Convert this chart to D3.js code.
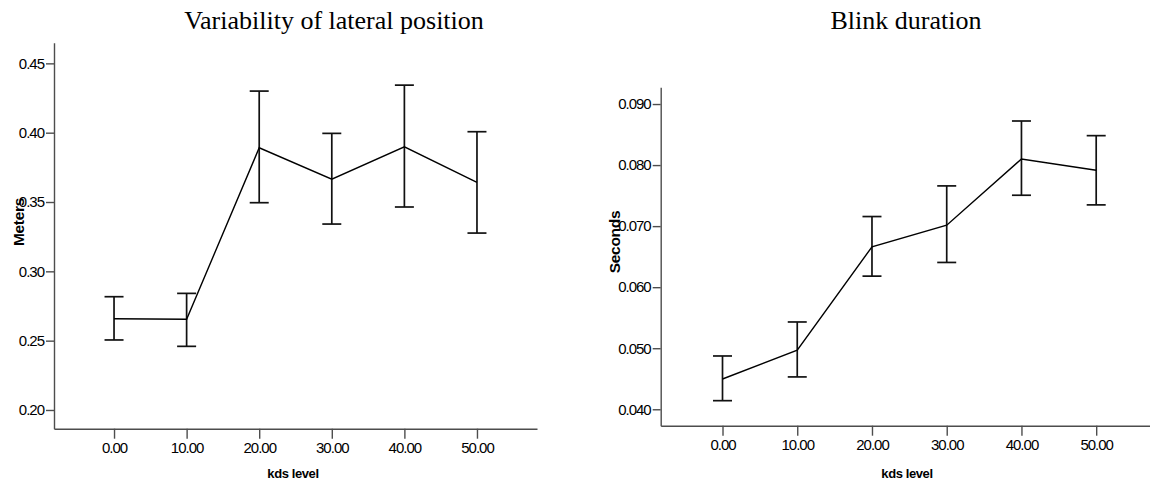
<!DOCTYPE html>
<html>
<head>
<meta charset="utf-8">
<script src="https://cdn.jsdelivr.net/npm/d3@7"></script>
<style>
  body { margin: 0; background: #fff; }
  .tick text { font-family: "Liberation Sans", Arial, sans-serif; font-size: 15px; letter-spacing: -1px; fill: #000; }
  .tick line, .domain { stroke: #4d4d4d; stroke-width: 1.4px; }
</style>
</head>
<body>
<div id="plot"></div>
<script>
// kds levels on the x axis
var levels = [0, 10, 20, 30, 40, 50];

// Variability of lateral position (meters): mean, lower and upper error bar
var lateralMean  = [0.2658, 0.2654, 0.3891, 0.3665, 0.3898, 0.3642];
var lateralLower = [0.2505, 0.2459, 0.3495, 0.3341, 0.3464, 0.3276];
var lateralUpper = [0.2817, 0.2841, 0.4300, 0.3995, 0.4343, 0.4007];
var lateralTicks = [0.20, 0.25, 0.30, 0.35, 0.40, 0.45];

// Blink duration (seconds)
var blinkMean  = [0.04496, 0.0497, 0.06661, 0.07015, 0.08100, 0.07915];
var blinkLower = [0.04141, 0.0453, 0.06181, 0.06405, 0.07506, 0.07348];
var blinkUpper = [0.04873, 0.0543, 0.07157, 0.07659, 0.08722, 0.08482];
var blinkTicks = [0.040, 0.050, 0.060, 0.070, 0.080, 0.090];

var svg = d3.select("#plot")
  .append("svg")
    .attr("width", 1150)
    .attr("height", 484);

function drawPanel(opt) {
  var x = d3.scaleLinear()
    .domain([-8.27, 58.27])
    .range([opt.left, opt.right]);
  var y = d3.scaleLinear()
    .domain(opt.yDomain)
    .range([opt.bottom, opt.top]);

  var g = svg.append("g");

  // X axis
  g.append("g")
    .attr("transform", "translate(0," + opt.bottom + ")")
    .call(d3.axisBottom(x).tickValues(levels).tickFormat(d3.format(".2f"))
      .tickSize(10).tickSizeOuter(0).tickPadding(4));

  // Y axis
  g.append("g")
    .attr("transform", "translate(" + opt.left + ",0)")
    .call(d3.axisLeft(y).tickValues(opt.ticks).tickFormat(d3.format(opt.fmt))
      .tickSize(8).tickSizeOuter(0).tickPadding(2));

  var rows = levels.map(function (d, i) {
    return {k: d, m: opt.mean[i], lo: opt.lower[i], hi: opt.upper[i]};
  });

  // error bars
  var bars = g.append("g").selectAll("g")
    .data(rows)
    .enter()
    .append("g")
      .attr("stroke", "#111")
      .attr("stroke-width", 1.7);
  bars.append("line")
    .attr("x1", function (d) { return x(d.k); })
    .attr("x2", function (d) { return x(d.k); })
    .attr("y1", function (d) { return y(d.lo); })
    .attr("y2", function (d) { return y(d.hi); });
  bars.append("line")
    .attr("x1", function (d) { return x(d.k) - 9.5; })
    .attr("x2", function (d) { return x(d.k) + 9.5; })
    .attr("y1", function (d) { return y(d.hi); })
    .attr("y2", function (d) { return y(d.hi); });
  bars.append("line")
    .attr("x1", function (d) { return x(d.k) - 9.5; })
    .attr("x2", function (d) { return x(d.k) + 9.5; })
    .attr("y1", function (d) { return y(d.lo); })
    .attr("y2", function (d) { return y(d.lo); });

  // mean line
  g.append("path")
    .datum(rows)
    .attr("fill", "none")
    .attr("stroke", "#000")
    .attr("stroke-width", 1.4)
    .attr("d", d3.line()
      .x(function (d) { return x(d.k); })
      .y(function (d) { return y(d.m); }));

  // title
  g.append("text")
    .attr("x", opt.titleX)
    .attr("y", 29)
    .attr("text-anchor", "middle")
    .style("font-family", "'Liberation Serif', 'Times New Roman', serif")
    .style("font-size", "26px")
    .text(opt.title);

  // X axis label
  g.append("text")
    .attr("x", opt.xLabelX)
    .attr("y", 478)
    .attr("text-anchor", "middle")
    .style("font-family", "'Liberation Sans', Arial, sans-serif")
    .style("font-size", "13px")
    .style("font-weight", "bold")
    .style("letter-spacing", "-0.4px")
    .text("kds level");

  // Y axis label
  g.append("text")
    .attr("transform", "translate(" + opt.yLabelX + "," + opt.yLabelY + ") rotate(-90)")
    .attr("text-anchor", "middle")
    .style("font-family", "'Liberation Sans', Arial, sans-serif")
    .style("font-size", "15.5px")
    .style("font-weight", "bold")
    .style("letter-spacing", "-0.3px")
    .text(opt.yLabel);
}

drawPanel({
  left: 54, right: 537, top: 42.7, bottom: 428.7,
  yDomain: [0.1865, 0.4649], ticks: lateralTicks, fmt: ".2f",
  mean: lateralMean, lower: lateralLower, upper: lateralUpper,
  title: "Variability of lateral position", titleX: 334,
  xLabelX: 293, yLabel: "Meters", yLabelX: 24, yLabelY: 222
});

drawPanel({
  left: 660.7, right: 1158, top: 87.3, bottom: 425.7,
  yDomain: [0.03731, 0.09274], ticks: blinkTicks, fmt: ".3f",
  mean: blinkMean, lower: blinkLower, upper: blinkUpper,
  title: "Blink duration", titleX: 906,
  xLabelX: 907, yLabel: "Seconds", yLabelX: 620, yLabelY: 242
});
</script>
</body>
</html>
